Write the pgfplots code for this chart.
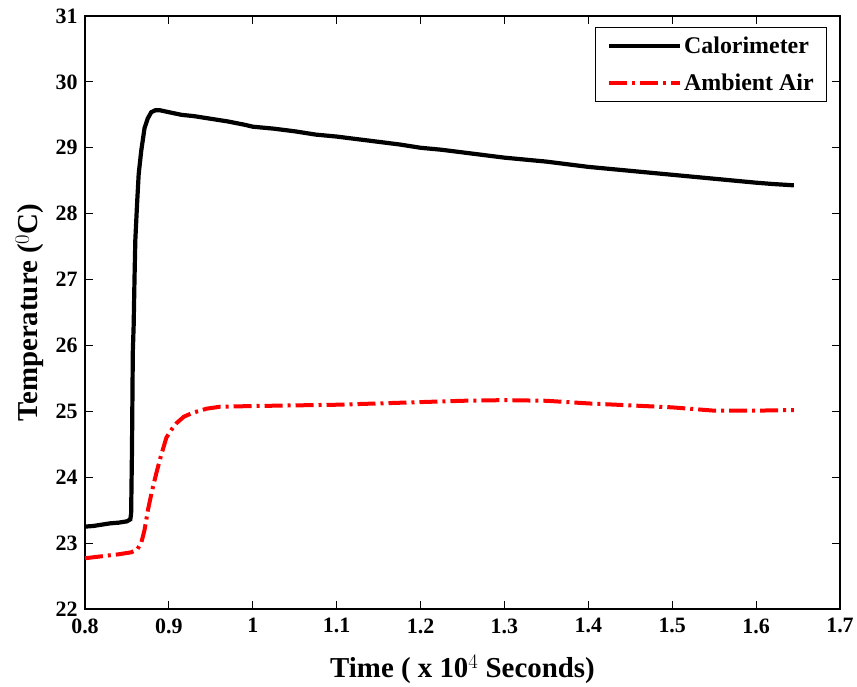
\documentclass[border=0pt]{standalone}
\usepackage{pgfplots}
\pgfplotsset{compat=1.18}
\usepackage{fontspec}
\setmainfont{Liberation Serif}
\begin{document}
\begin{tikzpicture}
\begin{axis}[
  scale only axis,
  width=755bp, height=593bp,
  xmin=0.8, xmax=1.7, ymin=22, ymax=31,
  xtick={0.8,0.9,1,1.1,1.2,1.3,1.4,1.5,1.6,1.7},
  xticklabels={0.8,0.9,1,1.1,1.2,1.3,1.4,1.5,1.6,1.7},
  ytick={22,23,...,31},
  tick align=inside,
  major tick length=8bp,
  axis line style={line width=1.2bp},
  tick style={line width=1bp, black},
  ticklabel style={font=\fontsize{22}{24}\selectfont\bfseries},
  xticklabel style={yshift=-6bp},
  yticklabel style={xshift=-4bp},
  /pgf/number format/assume math mode=true,
  xlabel={\bfseries Time ( x 10$^4$ Seconds)},
  ylabel={\bfseries Temperature ($^{0}$C)},
  label style={font=\fontsize{29}{31}\selectfont},
  xlabel style={at={(axis description cs:0.5,-0.1147)}, anchor=base},
  ylabel style={at={(axis description cs:-0.073,0.5)}, anchor=center},
  legend style={at={(0.983,0.981)}, anchor=north east, draw=black, line width=1bp,
    font=\fontsize{24}{26}\selectfont\bfseries, inner xsep=11bp, inner ysep=7.5bp, row sep=15bp,
    /tikz/every even column/.append style={column sep=2bp}},
  legend cell align=left,
  legend image code/.code={\draw[#1] (0bp,0bp) -- (71bp,0bp);},
]
\addplot[black, line width=4.2bp] coordinates {
(0.800,23.25) (0.810,23.26) (0.820,23.28) (0.830,23.30) (0.840,23.31) (0.850,23.33) (0.854,23.36)
(0.855,23.45) (0.856,24.4) (0.857,25.9) (0.858,26.3) (0.859,27.0) (0.860,27.6) (0.862,28.13)
(0.864,28.6) (0.867,28.95) (0.871,29.30) (0.875,29.45) (0.879,29.54) (0.884,29.57) (0.889,29.57)
(0.900,29.54) (0.915,29.50) (0.930,29.48) (0.950,29.44) (0.970,29.40) (0.990,29.35)
(1.000,29.32) (1.025,29.29) (1.050,29.25) (1.075,29.20) (1.100,29.17) (1.125,29.13)
(1.150,29.09) (1.175,29.05) (1.200,29.00) (1.225,28.97) (1.250,28.93) (1.275,28.89)
(1.300,28.85) (1.325,28.82) (1.350,28.79) (1.375,28.75) (1.400,28.71) (1.425,28.68)
(1.450,28.65) (1.475,28.62) (1.500,28.59) (1.525,28.56) (1.550,28.53) (1.575,28.50)
(1.600,28.47) (1.620,28.45) (1.645,28.43)
};
\addlegendentry{Calorimeter}
\addplot[red, line width=4bp, dash pattern=on 18bp off 5bp on 3bp off 5bp] coordinates {
(0.800,22.77) (0.820,22.80) (0.840,22.83) (0.855,22.86) (0.862,22.90) (0.867,23.00)
(0.871,23.20) (0.875,23.50) (0.880,23.80) (0.885,24.06) (0.890,24.30) (0.897,24.60)
(0.903,24.72) (0.909,24.82) (0.918,24.92) (0.929,24.98) (0.945,25.04) (0.961,25.07)
(1.000,25.08) (1.050,25.09) (1.100,25.10) (1.150,25.12) (1.200,25.14) (1.250,25.16)
(1.300,25.17) (1.350,25.16) (1.400,25.12) (1.450,25.09) (1.500,25.06) (1.550,25.01)
(1.600,25.01) (1.645,25.02)
};
\addlegendentry{Ambient Air}
\end{axis}
\path (current axis.south west) ++(-85bp,-78bp) coordinate (bbsw);
\path (current axis.north east) ++(16bp,16bp) coordinate (bbne);
\useasboundingbox (bbsw) rectangle (bbne);
\end{tikzpicture}
\end{document}
